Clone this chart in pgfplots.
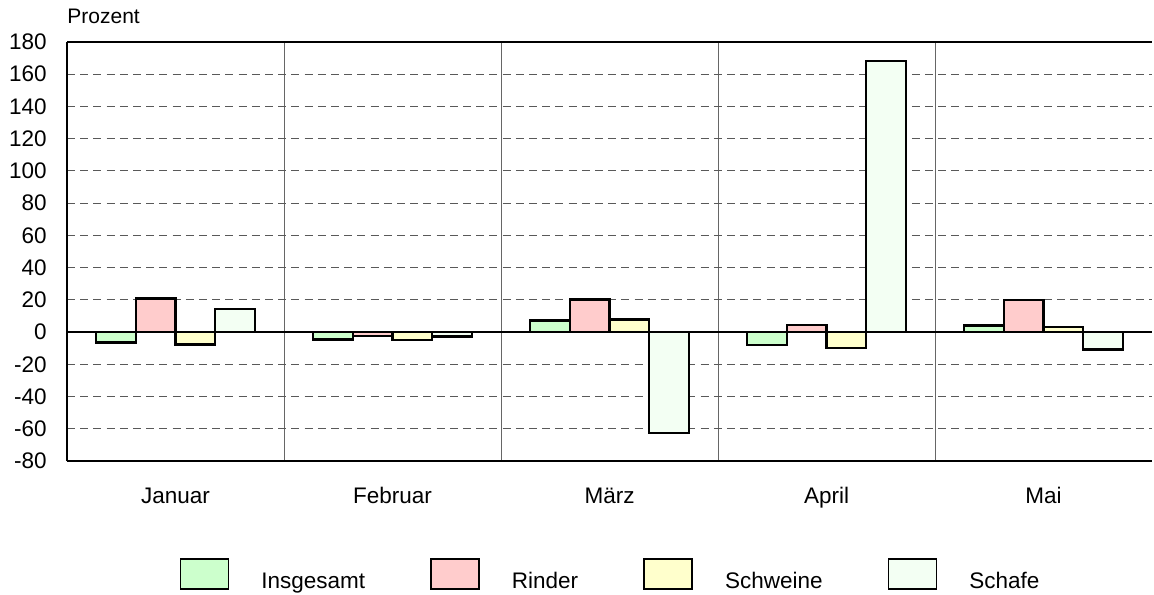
\documentclass[border=0pt]{standalone}
\usepackage{pgfplots}
\pgfplotsset{compat=1.18}
\usepackage{fontspec}
\setmainfont{Liberation Sans}
\definecolor{cIns}{HTML}{CCFFCC}
\definecolor{cRin}{HTML}{FFCCCC}
\definecolor{cSchw}{HTML}{FFFFCC}
\definecolor{cSchaf}{HTML}{F3FFF3}
\begin{document}
\fontsize{11.25pt}{13.5pt}\selectfont
\begin{tikzpicture}
\useasboundingbox (-33.5pt,-66.5pt) rectangle (543.5pt,230.5pt);
\begin{axis}[
  scale only axis,
  width=542.5pt, height=209.5pt,
  xmin=-0.5, xmax=4.5,
  ymin=-80, ymax=180,
  ytick={-80,-60,...,180},
  xtick={0,1,2,3,4},
  xticklabels={Januar,Februar,März,April,Mai},
  minor xtick={0.5,1.5,2.5,3.5},
  major tick length=0pt, minor tick length=0pt,
  axis x line=box, axis y line=left,
  x axis line style={line width=1.2pt,-},
  y axis line style={line width=1.2pt,-},
  ymajorgrids,
  major grid style={dash pattern=on 4pt off 2.6pt, gray!70!black, line width=0.5pt},
  minor x grid style={solid, gray!80!black, line width=0.5pt},
  xminorgrids,
  /pgf/number format/assume math mode=true,
  yticklabel style={font=\fontsize{11.25pt}{13.5pt}\selectfont, inner sep=0pt, xshift=-10pt},
  xticklabel style={font=\fontsize{11.25pt}{13.5pt}\selectfont, inner sep=0pt, anchor=base, yshift=-21pt},
  ybar=0pt, bar width=0.183,
  legend columns=4,
  legend style={draw=none, fill=none, inner sep=0pt,
    at={(axis description cs:0.5,-0.272)}, anchor=center,
    nodes={inner sep=0pt, font=\fontsize{11.25pt}{13.5pt}\selectfont},
    /tikz/every odd column/.append style={column sep=16pt},
    /tikz/every even column/.append style={column sep=32.5pt}},
  legend image code/.code={\draw[#1, line width=0.9pt] (0pt,-3.5pt) rectangle (24pt,11.5pt);},
  clip=false,
]
\addplot[fill=cIns, draw=black, line width=1.2pt] coordinates {(0,-6.4) (1,-4.5) (2,7.1) (3,-8.2) (4,4.1)};
\addplot[fill=cRin, draw=black, line width=1.2pt] coordinates {(0,20.9) (1,-2.3) (2,20.2) (3,4.3) (4,20.0)};
\addplot[fill=cSchw, draw=black, line width=1.2pt] coordinates {(0,-7.8) (1,-4.8) (2,7.8) (3,-9.7) (4,3.3)};
\addplot[fill=cSchaf, draw=black, line width=1.2pt] coordinates {(0,14.2) (1,-2.7) (2,-62.7) (3,168.2) (4,-10.7)};
\legend{Insgesamt,Rinder,Schweine,Schafe}
\draw[black, line width=1.2pt] (axis cs:-0.5,0) -- (axis cs:4.5,0);
\node[anchor=base west, inner sep=0pt, font=\fontsize{10.5pt}{12pt}\selectfont] at ([yshift=9.5pt]axis description cs:0,1) {Prozent};
\end{axis}
\end{tikzpicture}
\end{document}
